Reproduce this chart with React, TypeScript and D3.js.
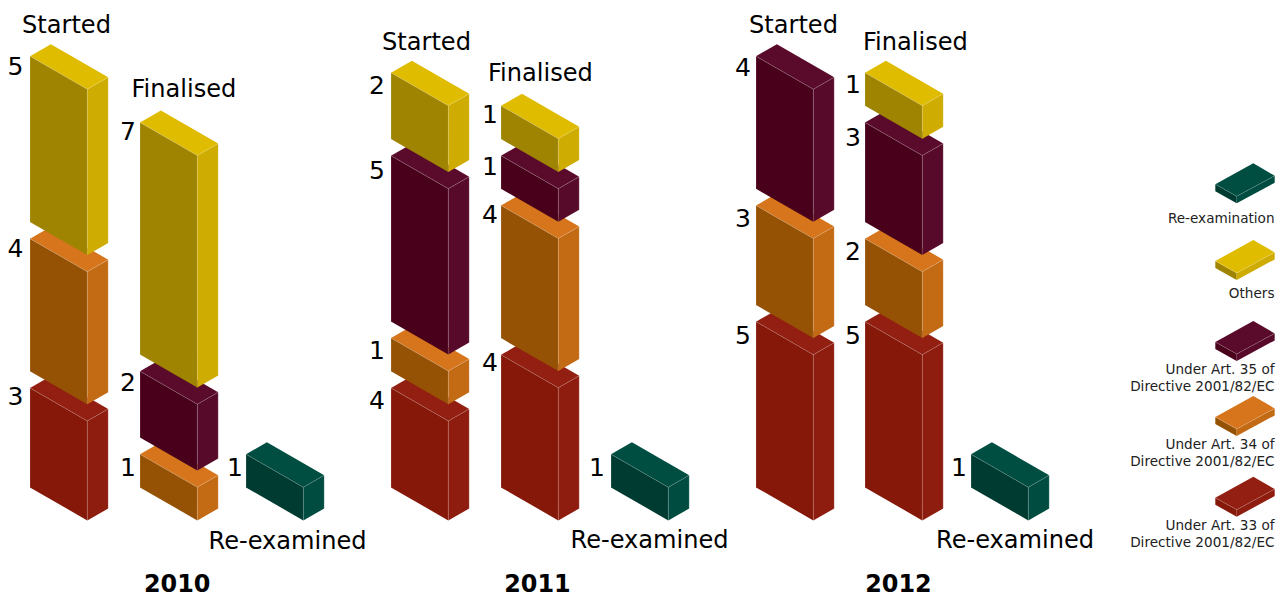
import React from "react";
import * as d3 from "d3";

// ---------- data ----------
const years = ["2010", "2011", "2012"];

// values printed on the blocks, bottom to top, and the height each block is drawn at
// (the 2011 "Started" Art. 33 block is printed as 4 but drawn 3 units tall in the reference)
const started2010Cats = ["art33", "art34", "others"];
const started2010Values = [3, 4, 5];
const started2010Drawn = [3, 4, 5];
const finalised2010Cats = ["art34", "art35", "others"];
const finalised2010Values = [1, 2, 7];
const finalised2010Drawn = [1, 2, 7];

const started2011Cats = ["art33", "art34", "art35", "others"];
const started2011Values = [4, 1, 5, 2];
const started2011Drawn = [3, 1, 5, 2];
const finalised2011Cats = ["art33", "art34", "art35", "others"];
const finalised2011Values = [4, 4, 1, 1];
const finalised2011Drawn = [4, 4, 1, 1];

const started2012Cats = ["art33", "art34", "art35"];
const started2012Values = [5, 3, 4];
const started2012Drawn = [5, 3, 4];
const finalised2012Cats = ["art33", "art34", "art35", "others"];
const finalised2012Values = [5, 2, 3, 1];
const finalised2012Drawn = [5, 2, 3, 1];

const reexamCats = ["reexam"];
const reexamValues = [1];

const legendCats = ["reexam", "others", "art35", "art34", "art33"];
const legendLabels = [
  ["Re-examination"],
  ["Others"],
  ["Under Art. 35 of", "Directive 2001/82/EC"],
  ["Under Art. 34 of", "Directive 2001/82/EC"],
  ["Under Art. 33 of", "Directive 2001/82/EC"],
];

// ---------- styles & layout ----------
const palette: Record<string, { top: string; front: string; side: string }> = {
  art33: { top: "#921f11", front: "#851808", side: "#8e1c0f" },
  art34: { top: "#d6751b", front: "#955204", side: "#c26a14" },
  art35: { top: "#5a0b2b", front: "#48001b", side: "#570a29" },
  others: { top: "#e0bc00", front: "#9e8400", side: "#cfac02" },
  reexam: { top: "#004e42", front: "#003b31", side: "#004c40" },
};

const FONT = "'DejaVu Sans', sans-serif";
const BASE_Y = 487.4;
const GAP = 16.7;
const unit = d3.scaleLinear().domain([0, 1]).range([0, 33.15]);
const FRONT_DX = 57.3;
const FRONT_DY = 33;
const SIDE_DX = 20.9;
const SIDE_DY = -12;

const line = d3.line<[number, number]>();

type Col = {
  x: number;
  cats: string[];
  values: number[];
  drawn: number[];
  labelX: number;
  labelDy: number[];
  head: string;
  headX: number;
  headY: number;
};

const columns: Col[] = [
  { x: 30, cats: started2010Cats, values: started2010Values, drawn: started2010Drawn, labelX: 15.5, labelDy: [17.5, 18.5, 18.5], head: "Started", headX: 22, headY: 33 },
  { x: 140, cats: finalised2010Cats, values: finalised2010Values, drawn: finalised2010Drawn, labelX: 128, labelDy: [22, 19.5, 17.5], head: "Finalised", headX: 131.5, headY: 96.7 },
  { x: 246, cats: reexamCats, values: reexamValues, drawn: reexamValues, labelX: 235, labelDy: [22], head: "Re-examined", headX: 208.5, headY: 549.3 },
  { x: 391, cats: started2011Cats, values: started2011Values, drawn: started2011Drawn, labelX: 377, labelDy: [21, 21, 23, 21], head: "Started", headX: 382, headY: 50 },
  { x: 501, cats: finalised2011Cats, values: finalised2011Values, drawn: finalised2011Drawn, labelX: 490, labelDy: [16.5, 17, 19, 17], head: "Finalised", headX: 488, headY: 81 },
  { x: 611, cats: reexamCats, values: reexamValues, drawn: reexamValues, labelX: 597, labelDy: [22], head: "Re-examined", headX: 570.5, headY: 547.7 },
  { x: 756, cats: started2012Cats, values: started2012Values, drawn: started2012Drawn, labelX: 743, labelDy: [22, 21, 20], head: "Started", headX: 749, headY: 33.3 },
  { x: 865, cats: finalised2012Cats, values: finalised2012Values, drawn: finalised2012Drawn, labelX: 853, labelDy: [22, 21, 23, 20.5], head: "Finalised", headX: 863, headY: 50 },
  { x: 971, cats: reexamCats, values: reexamValues, drawn: reexamValues, labelX: 959, labelDy: [22], head: "Re-examined", headX: 936, headY: 547.7 },
];

const yearX = [177.2, 537.5, 898.5];
const legendTopY = [163.3, 240, 321, 396, 476.7];
const legendBaselines = [[222.7], [297.7], [374, 391], [449, 465.7], [530, 546.7]];

const Block = ({ x, y, h, cat }: { x: number; y: number; h: number; cat: string }) => {
  const c = palette[cat];
  const fx = x + FRONT_DX;
  const fy = y + FRONT_DY;
  const rx = fx + SIDE_DX;
  const ry = fy + SIDE_DY;
  const bx = x + SIDE_DX;
  const by = y + SIDE_DY;
  const edge = "rgba(255,255,255,0.24)";
  return (
    <g>
      <path d={line([[x, y], [bx, by], [rx, ry], [fx, fy]])! + "Z"} fill={c.top} />
      <path d={line([[x, y], [fx, fy], [fx, fy + h], [x, y + h]])! + "Z"} fill={c.front} />
      <path d={line([[fx, fy], [rx, ry], [rx, ry + h], [fx, fy + h]])! + "Z"} fill={c.side} />
      <path
        d={
          line([[x, y + h], [x, y], [fx, fy], [rx, ry], [rx, ry + h]])! +
          line([[fx, fy], [fx, fy + h]])!
        }
        fill="none"
        stroke={edge}
        strokeWidth={0.7}
      />
    </g>
  );
};

const Slab = ({ topY, cat }: { topY: number; cat: string }) => {
  const c = palette[cat];
  const t: [number, number] = [1253.3, topY];
  const r: [number, number] = [1274.7, topY + 12.4];
  const f: [number, number] = [1236.7, topY + 33];
  const l: [number, number] = [1215.3, topY + 21];
  const th = 7;
  const dn = (p: [number, number]): [number, number] => [p[0], p[1] + th];
  return (
    <g>
      <path d={line([l, f, dn(f), dn(l)])! + "Z"} fill={c.front} />
      <path d={line([f, r, dn(r), dn(f)])! + "Z"} fill={c.side} />
      <path d={line([t, r, f, l])! + "Z"} fill={c.top} />
      <path d={line([l, f, r])!} fill="none" stroke="rgba(255,255,255,0.25)" strokeWidth={0.6} />
    </g>
  );
};

export default function App() {
  return (
    <svg
      width={1285}
      height={597}
      viewBox="0 0 1285 597"
      style={{ position: "absolute", left: 0, top: 0, display: "block", background: "#fff" }}
    >
      {columns.map((col, i) => {
        let cursor = BASE_Y;
        const items = col.cats.map((cat, j) => {
          const h = unit(col.drawn[j]);
          const y = cursor - h;
          cursor = y - GAP;
          return { cat, h, y, value: col.values[j], dy: col.labelDy[j] };
        });
        return (
          <g key={i} fontFamily={FONT}>
            {items.map((it, j) => (
              <Block key={j} x={col.x} y={it.y} h={it.h} cat={it.cat} />
            ))}
            {items.map((it, j) => (
              <text key={j} x={col.labelX} y={it.y + it.dy} fontSize={25} textAnchor="middle" fill="#000">
                {it.value}
              </text>
            ))}
            <text x={col.headX} y={col.headY} fontSize={24.1} fill="#000">
              {col.head}
            </text>
          </g>
        );
      })}
      {years.map((yr, i) => (
        <text key={yr} x={yearX[i]} y={592} fontFamily={FONT} fontWeight="bold" fontSize={23.9} textAnchor="middle" fill="#000">
          {yr}
        </text>
      ))}
      {legendCats.map((cat, i) => (
        <g key={cat}>
          <Slab topY={legendTopY[i]} cat={cat} />
          {legendLabels[i].map((t, j) => (
            <text key={j} x={1274.5} y={legendBaselines[i][j]} fontFamily={FONT} fontSize={13.6} textAnchor="end" fill="#222">
              {t}
            </text>
          ))}
        </g>
      ))}
    </svg>
  );
}
